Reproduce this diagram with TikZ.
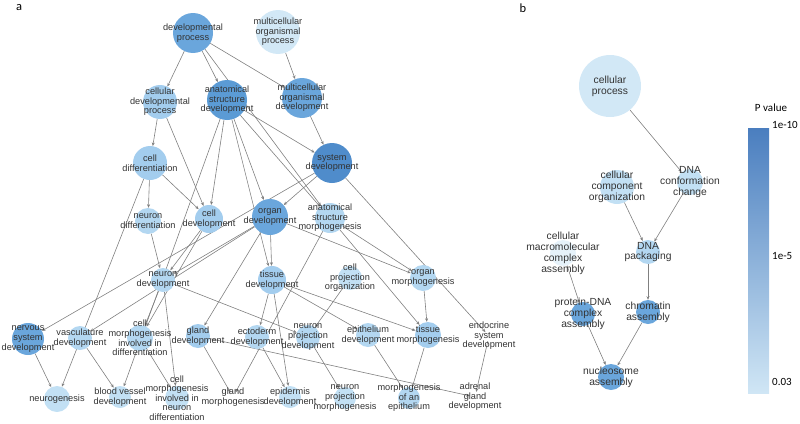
\documentclass[tikz,border=0pt]{standalone}
\usepackage{fontspec}
\setmainfont{Liberation Sans}
\newfontfamily\barfont{Carlito}
\usetikzlibrary{arrows.meta,backgrounds}

\definecolor{txt}{HTML}{333333}
\definecolor{edgegray}{HTML}{808080}
% node shades, dark (small p) to light
\definecolor{pa}{HTML}{4F8CCB}
\definecolor{pb}{HTML}{5B9BD5}
\definecolor{pc}{HTML}{6AA6DC}
\definecolor{pe}{HTML}{A3CDEE}
\definecolor{pf}{HTML}{B3D7F1}
\definecolor{pg}{HTML}{C2E0F4}
\definecolor{ph}{HTML}{D2E8F6}
\definecolor{pi}{HTML}{E6F2FA}
\definecolor{barTop}{HTML}{4A7EBF}
\definecolor{barMid}{HTML}{78B0E0}
\definecolor{barBot}{HTML}{D0E6F5}

\tikzset{
  gonode/.style={circle, inner sep=0pt, draw=none, minimum size=#1},
  lbl/.style={align=center, inner sep=0pt, text=txt,
    font=\fontsize{9.2}{9.6}\selectfont},
  lblb/.style={align=center, inner sep=0pt, text=txt,
    font=\fontsize{10.3}{10.9}\selectfont},
  edge/.style={draw=edgegray, line width=0.6pt, -{Stealth[length=3.6pt,width=3pt]}},
  barlbl/.style={inner sep=0pt, text=black, font=\barfont\fontsize{11}{13}\selectfont},
}

\begin{document}
\begin{tikzpicture}[x=1pt, y=-1pt]
\useasboundingbox (0,0) rectangle (800,423);

% panel letters
\node[barlbl, font=\barfont\fontsize{12.5}{14}\selectfont] (pa) at (19,8) {a};
\node[barlbl, font=\barfont\fontsize{12.5}{14}\selectfont] (pb) at (523,8) {b};

% panel a: terms
\node[gonode=40, fill=pc, label={[lbl]center:developmental\\process}] (devproc) at (193,33) {};
\node[gonode=44, fill=ph, label={[lbl]center:multicellular\\organismal\\process}] (mop) at (278,32) {};
\node[gonode=34, fill=pe, label={[lbl]center:cellular\\developmental\\process}] (cdp) at (160,102) {};
\node[gonode=40, fill=pb, label={[lbl]center:anatomical\\structure\\development}] (asd) at (227,100) {};
\node[gonode=40, fill=pc, label={[lbl]center:multicellular\\organismal\\development}] (mod) at (302,98) {};
\node[gonode=34, fill=pe, label={[lbl]center:cell\\differentiation}] (celldiff) at (150,163) {};
\node[gonode=40, fill=pa, label={[lbl]center:system\\development}] (sysdev) at (332,163) {};
\node[gonode=26, fill=pf, label={[lbl]center:neuron\\differentiation}] (neurondiff) at (148,221) {};
\node[gonode=28, fill=pe, label={[lbl]center:cell\\development}] (celldev) at (209,219) {};
\node[gonode=36, fill=pc, label={[lbl]center:organ\\development}] (organdev) at (270,217) {};
\node[gonode=30, fill=pf, label={[lbl]center:anatomical\\structure\\morphogenesis}] (asm) at (330,218) {};
\node[gonode=24, fill=pf, label={[lbl]center:neuron\\development}] (neurondev) at (163,280) {};
\node[gonode=28, fill=pe, label={[lbl]center:tissue\\development}] (tissuedev) at (272,280) {};
\node[gonode=24, fill=pg, label={[lbl]center:cell\\projection\\organization}] (cpo) at (350,278) {};
\node[gonode=26, fill=pf, label={[lbl]center:organ\\morphogenesis}] (organmorph) at (423,278) {};
\node[gonode=32, fill=pc, label={[lbl]center:nervous\\system\\development}] (nsd) at (28,339) {};
\node[gonode=24, fill=pf, label={[lbl]center:vasculature\\development}] (vascdev) at (80,338) {};
\node[gonode=26, fill=pf, label={[lbl]center:cell\\morphogenesis\\involved in\\differentiation}] (cmid) at (140,338) {};
\node[gonode=24, fill=pe, label={[lbl]center:gland\\development}] (glanddev) at (198,336) {};
\node[gonode=24, fill=pf, label={[lbl]center:ectoderm\\development}] (ectoderm) at (257,337) {};
\node[gonode=24, fill=pf, label={[lbl]center:neuron\\projection\\development}] (npd) at (308,337) {};
\node[gonode=24, fill=pf, label={[lbl]center:epithelium\\development}] (epidev) at (368,335) {};
\node[gonode=26, fill=pe, label={[lbl]center:tissue\\morphogenesis}] (tissuemorph) at (428,335) {};
\node[gonode=10, label={[lbl]center:endocrine\\system\\development}] (endocrine) at (489,336) {};
\node[gonode=26, fill=pg, label={[lbl]center:neurogenesis}] (neurogen) at (57,399) {};
\node[gonode=22, fill=pg, label={[lbl]center:blood vessel\\development}] (bvd) at (120,397) {};
\node[gonode=24, fill=pg, label={[lbl]center:cell\\morphogenesis\\involved in\\neuron\\differentiation}] (cmind) at (177,398) {};
\node[gonode=10, label={[lbl]center:gland\\morphogenesis}] (glandmorph) at (233,397) {};
\node[gonode=22, fill=pg, label={[lbl]center:epidermis\\development}] (epiderm) at (290,397) {};
\node[gonode=22, fill=pg, label={[lbl]center:neuron\\projection\\morphogenesis}] (npm) at (345,398) {};
\node[gonode=22, fill=pf, label={[lbl]center:morphogenesis\\of an\\epithelium}] (moae) at (409,398) {};
\node[gonode=10, label={[lbl]center:adrenal\\gland\\development}] (adrenal) at (475,397) {};

% panel b: terms
\node[gonode=62, fill=ph, label={[lblb]center:cellular\\process}] (cellproc) at (610,86) {};
\node[gonode=34, fill=pg, label={[lblb]center:cellular\\component\\organization}] (cco) at (617,187) {};
\node[gonode=26, fill=pg, label={[lblb]center:DNA\\conformation\\change}] (dnaconf) at (690,182) {};
\node[gonode=24, fill=pf, label={[lblb]center:DNA\\packaging}] (dnapack) at (648,252) {};
\node[gonode=26, fill=pi, label={[lblb]center:cellular\\macromolecular\\complex\\assembly}] (cmca) at (563,253) {};
\node[gonode=24, fill=pc, label={[lblb]center:protein-DNA\\complex\\assembly}] (pdca) at (583,314) {};
\node[gonode=24, fill=pc, label={[lblb]center:chromatin\\assembly}] (chromatin) at (648,312) {};
\node[gonode=26, fill=pc, label={[lblb]center:nucleosome\\assembly}] (nucleosome) at (611,377) {};

% colour scale
\shade[top color=barTop, middle color=barMid, bottom color=barBot] (748,128) rectangle (769,393);
\node[barlbl] (ptitle) at (771,108) {P value};
\node[barlbl, anchor=west] (pmax) at (772,125) {1e-10};
\node[barlbl, anchor=west] (pmid) at (772,256) {1e-5};
\node[barlbl, anchor=west] (pmin) at (772,382) {0.03};

% links
\begin{scope}[on background layer]
\draw[edge] (devproc) -- (cdp);
\draw[edge] (devproc) -- (asd);
\draw[edge] (devproc) -- (mod);
\draw[edge] (devproc) -- (asm);
\draw[edge] (mop) -- (mod);
\draw[edge] (asd) -- (sysdev);
\draw[edge] (mod) -- (sysdev);
\draw[edge] (cdp) -- (celldiff);
\draw[edge] (cdp) -- (celldev);
\draw[edge] (celldiff) -- (neurondiff);
\draw[edge] (celldiff) -- (celldev);
\draw[edge] (celldiff) -- (neurogen);
\draw[edge] (asd) -- (celldev);
\draw[edge] (asd) -- (organdev);
\draw[edge] (asd) -- (asm);
\draw[edge] (asd) -- (tissuedev);
\draw[edge] (asd) -- (bvd);
\draw[edge] (sysdev) -- (organdev);
\draw[edge] (sysdev) -- (nsd);
\draw[edge] (sysdev) -- (endocrine);
\draw[edge] (organdev) -- (tissuedev);
\draw[edge] (organdev) -- (neurondev);
\draw[edge] (organdev) -- (vascdev);
\draw[edge] (organdev) -- (organmorph);
\draw[edge] (organdev) -- (glanddev);
\draw[edge] (neurondiff) -- (neurondev);
\draw[edge] (celldev) -- (neurondev);
\draw[edge] (celldev) -- (cmid);
\draw[edge] (neurondev) -- (cmid);
\draw[edge] (neurondev) -- (cmind);
\draw[edge] (neurondev) -- (npd);
\draw[edge] (cmid) -- (cmind);
\draw[edge] (nsd) -- (neurogen);
\draw[edge] (vascdev) -- (bvd);
\draw[edge] (asm) -- (organmorph);
\draw[edge] (asm) -- (tissuemorph);
\draw[edge] (asm) -- (glandmorph);
\draw[edge] (organmorph) -- (tissuemorph);
\draw[edge] (tissuedev) -- (tissuemorph);
\draw[edge] (tissuedev) -- (epidev);
\draw[edge] (tissuedev) -- (ectoderm);
\draw[edge] (tissuedev) -- (epiderm);
\draw[edge] (ectoderm) -- (epiderm);
\draw[edge] (cpo) -- (npd);
\draw[edge] (npd) -- (npm);
\draw[edge] (tissuemorph) -- (moae);
\draw[edge] (epidev) -- (moae);
\draw[edge] (endocrine) -- (adrenal);
\draw[edge] (glanddev) -- (adrenal);
\draw[edge] (glanddev) -- (glandmorph);
% panel b
\draw[edge] (cellproc) -- (dnaconf);
\draw[edge] (cco) -- (dnapack);
\draw[edge] (dnaconf) -- (dnapack);
\draw[edge] (dnapack) -- (chromatin);
\draw[edge] (cmca) -- (pdca);
\draw[edge] (pdca) -- (nucleosome);
\draw[edge] (chromatin) -- (nucleosome);
\end{scope}
\end{tikzpicture}
\end{document}
